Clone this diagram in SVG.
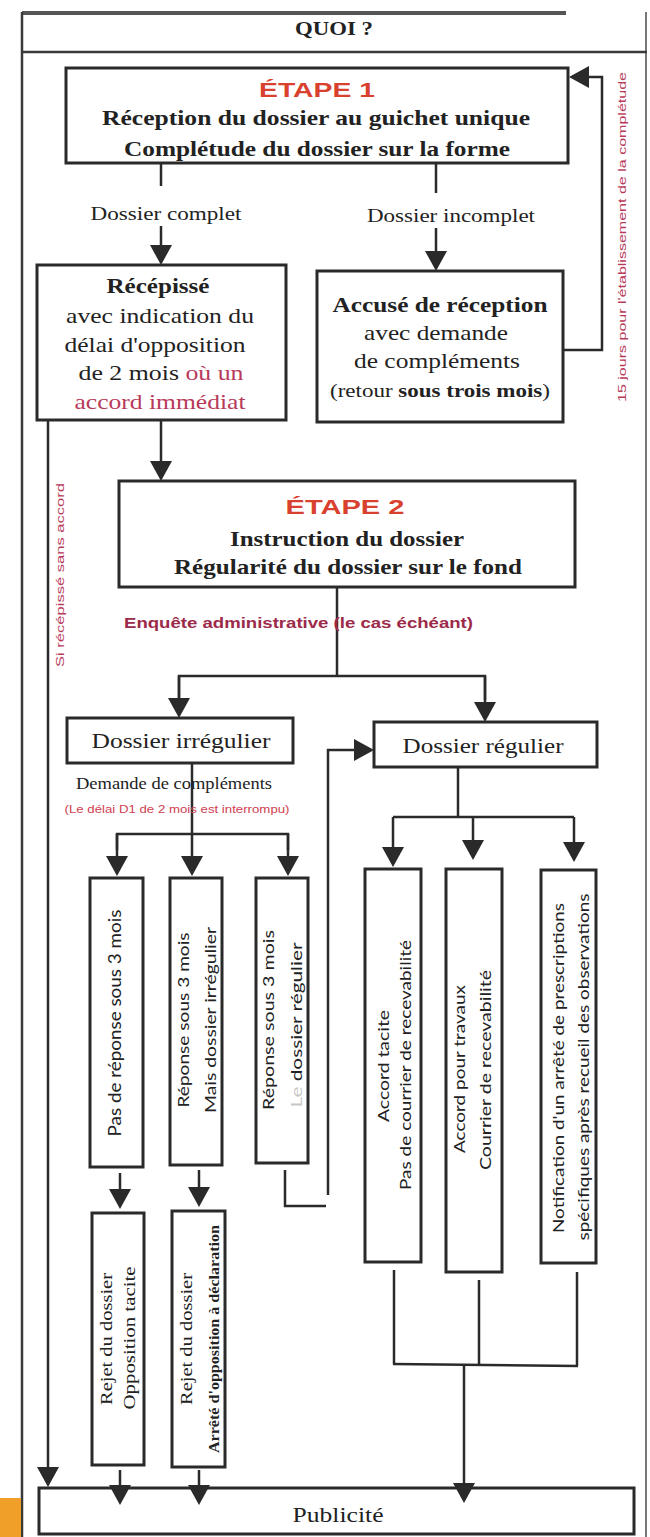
<svg xmlns="http://www.w3.org/2000/svg" width="650" height="1537" viewBox="0 0 650 1537">
<defs>
<marker id="ah" markerUnits="userSpaceOnUse" markerWidth="22" markerHeight="22" refX="17" refY="11" orient="auto">
<path d="M0,0 L20,11 L0,22 z" fill="#2a2a2a"/>
</marker>
<style>
.box{fill:#fff;stroke:#2a2a2a;stroke-width:3}
.ln{fill:none;stroke:#2a2a2a;stroke-width:2.5}
.ar{fill:none;stroke:#2a2a2a;stroke-width:2.5;marker-end:url(#ah)}
.fr{fill:none;stroke:#3a3a3a;stroke-width:2.5}
text{fill:#222}
.s{font-family:"Liberation Serif","Times New Roman",serif}
.sa{font-family:"Liberation Sans",Arial,sans-serif}
.hu{font-family:Lato,"Liberation Sans",sans-serif}
.b{font-weight:bold}
.c{text-anchor:middle}
.red{fill:#d9412f}
.pink{fill:#b83a5a}
.maroon{fill:#9c2a4a}
</style>
</defs>
<rect width="650" height="1537" fill="#fff"/>
<g id="frame">
<line x1="22" y1="13" x2="566" y2="13" stroke="#555" stroke-width="4"/>
<line class="fr" x1="22" y1="12" x2="22" y2="1537"/>
<line x1="646" y1="12" x2="646" y2="1537" stroke="#777" stroke-width="2"/>
<line class="fr" x1="22" y1="52" x2="647" y2="52"/>
<rect x="0" y="1498" width="21" height="39" fill="#f0a028"/>
<text class="s b c" x="334" y="35" font-size="18" textLength="78" lengthAdjust="spacingAndGlyphs">QUOI ?</text>
</g>
<g id="connectors">
<line class="ln" x1="161" y1="163" x2="161" y2="186"/>
<line class="ar" x1="161" y1="226" x2="161" y2="262"/>
<line class="ln" x1="436" y1="163" x2="436" y2="193"/>
<line class="ar" x1="436" y1="228" x2="436" y2="268"/>
<polyline class="ar" points="563,350 602,350 602,77 572,77"/>
<line class="ar" x1="161" y1="420" x2="161" y2="478"/>
<line class="ar" x1="48" y1="420" x2="48" y2="1484"/>
<line class="ln" x1="337" y1="587" x2="337" y2="676"/>
<polyline class="ln" points="179,700 179,676 485,676 485,700"/>
<line class="ar" x1="179" y1="676" x2="179" y2="715"/>
<line class="ar" x1="485" y1="676" x2="485" y2="719"/>
<line class="ar" x1="192" y1="763" x2="192" y2="873"/>
<polyline class="ln" points="117,850 117,834 288,834 288,850"/>
<line class="ar" x1="117" y1="834" x2="117" y2="873"/>
<line class="ar" x1="288" y1="834" x2="288" y2="873"/>
<polyline class="ln" points="285,1170 285,1206 326,1206"/>
<polyline class="ar" points="328,1195 328,750 371,750"/>
<line class="ln" x1="458" y1="767" x2="458" y2="817"/>
<line class="ln" x1="393" y1="817" x2="574" y2="817"/>
<line class="ar" x1="393" y1="817" x2="393" y2="864"/>
<line class="ar" x1="473" y1="817" x2="473" y2="857"/>
<line class="ar" x1="574" y1="817" x2="574" y2="859"/>
<line class="ar" x1="120" y1="1173" x2="120" y2="1206"/>
<line class="ar" x1="199" y1="1170" x2="199" y2="1204"/>
<line class="ar" x1="120" y1="1470" x2="120" y2="1502"/>
<line class="ar" x1="199" y1="1470" x2="199" y2="1502"/>
<line class="ln" x1="394" y1="1270" x2="394" y2="1364"/>
<line class="ln" x1="479" y1="1280" x2="479" y2="1364"/>
<line class="ln" x1="577" y1="1272" x2="577" y2="1366"/>
<line class="ln" x1="393" y1="1364" x2="578" y2="1366"/>
<line class="ar" x1="464" y1="1365" x2="464" y2="1500"/>
<text class="s c" x="166" y="220" font-size="19" textLength="151" lengthAdjust="spacingAndGlyphs">Dossier complet</text>
<text class="s c" x="451" y="222" font-size="19" textLength="168" lengthAdjust="spacingAndGlyphs">Dossier incomplet</text>
<text class="sa pink c" font-size="11" transform="translate(626,237) rotate(-90)" textLength="330" lengthAdjust="spacingAndGlyphs">15 jours pour l'établissement de la complétude</text>
<text class="sa pink c" font-size="11" transform="translate(64,575) rotate(-90)" textLength="184" lengthAdjust="spacingAndGlyphs">Si récépissé sans accord</text>
<text class="sa b maroon" x="124" y="628" font-size="14" textLength="349" lengthAdjust="spacingAndGlyphs">Enquête administrative (le cas échéant)</text>
<text class="s c" x="174" y="789" font-size="17" textLength="196" lengthAdjust="spacingAndGlyphs">Demande de compléments</text>
<text class="sa c" x="177" y="813" font-size="10" fill="#d04050" style="fill:#d04050" textLength="225" lengthAdjust="spacingAndGlyphs">(Le délai D1 de 2 mois est interrompu)</text>
</g>
<g id="etape1">
<rect class="box" x="66" y="68" width="502" height="95"/>
<text class="sa b red c" x="317" y="97" font-size="21" textLength="116" lengthAdjust="spacingAndGlyphs">ÉTAPE 1</text>
<text class="s b c" x="316" y="125" font-size="22" textLength="428" lengthAdjust="spacingAndGlyphs">Réception du dossier au guichet unique</text>
<text class="s b c" x="317" y="156" font-size="22" textLength="386" lengthAdjust="spacingAndGlyphs">Complétude du dossier sur la forme</text>
</g>
<g id="recepisse">
<rect class="box" x="37" y="265" width="249" height="155"/>
<text class="s b c" x="158" y="293" font-size="21" textLength="103" lengthAdjust="spacingAndGlyphs">Récépissé</text>
<text class="s c" x="160" y="323" font-size="21" textLength="188" lengthAdjust="spacingAndGlyphs">avec indication du</text>
<text class="s c" x="155" y="352" font-size="21" textLength="181" lengthAdjust="spacingAndGlyphs">délai d'opposition</text>
<text class="s c" x="161" y="380" font-size="21" textLength="165" lengthAdjust="spacingAndGlyphs">de 2 mois <tspan class="pink">où un</tspan></text>
<text class="s pink c" x="160" y="409" font-size="21" textLength="171" lengthAdjust="spacingAndGlyphs">accord immédiat</text>
</g>
<g id="accuse">
<rect class="box" x="317" y="271" width="246" height="151"/>
<text class="s b c" x="440" y="312" font-size="21" textLength="215" lengthAdjust="spacingAndGlyphs">Accusé de réception</text>
<text class="s c" x="436" y="340" font-size="21" textLength="144" lengthAdjust="spacingAndGlyphs">avec demande</text>
<text class="s c" x="437" y="368" font-size="21" textLength="166" lengthAdjust="spacingAndGlyphs">de compléments</text>
<text class="s c" x="440" y="397" font-size="19" textLength="220" lengthAdjust="spacingAndGlyphs">(retour <tspan class="b">sous trois mois</tspan>)</text>
</g>
<g id="etape2">
<rect class="box" x="119" y="481" width="456" height="106"/>
<text class="sa b red c" x="345" y="514" font-size="21" textLength="119" lengthAdjust="spacingAndGlyphs">ÉTAPE 2</text>
<text class="s b c" x="347" y="546" font-size="22" textLength="234" lengthAdjust="spacingAndGlyphs">Instruction du dossier</text>
<text class="s b c" x="348" y="574" font-size="22" textLength="348" lengthAdjust="spacingAndGlyphs">Régularité du dossier sur le fond</text>
</g>
<g id="irregulier">
<rect class="box" x="67" y="718" width="226" height="45"/>
<text class="s c" x="181" y="748" font-size="22" textLength="179" lengthAdjust="spacingAndGlyphs">Dossier irrégulier</text>
</g>
<g id="regulier">
<rect class="box" x="374" y="722" width="223" height="45"/>
<text class="s c" x="483" y="753" font-size="22" textLength="161" lengthAdjust="spacingAndGlyphs">Dossier régulier</text>
</g>
<g id="boxA">
<rect class="box" x="90" y="878" width="53" height="289"/>
<text class="hu c" font-size="17" transform="translate(121,1023) rotate(-90)" textLength="227" lengthAdjust="spacingAndGlyphs">Pas de réponse sous 3 mois</text>
</g>
<g id="boxB">
<rect class="box" x="170" y="878" width="52" height="287"/>
<text class="hu c" font-size="16" transform="translate(189,1020) rotate(-90)" textLength="175" lengthAdjust="spacingAndGlyphs">Réponse sous 3 mois</text>
<text class="hu c" font-size="16" transform="translate(216,1020) rotate(-90)" textLength="186" lengthAdjust="spacingAndGlyphs">Mais dossier irrégulier</text>
</g>
<g id="boxC">
<rect class="box" x="256" y="878" width="52" height="285"/>
<text class="hu c" font-size="16" transform="translate(274,1020) rotate(-90)" textLength="180" lengthAdjust="spacingAndGlyphs">Réponse sous 3 mois</text>
<text class="hu c" font-size="16" transform="translate(302,1025) rotate(-90)" textLength="165" lengthAdjust="spacingAndGlyphs"><tspan style="fill:#c8c8c8">Le</tspan> dossier régulier</text>
</g>
<g id="boxD">
<rect class="box" x="365" y="869" width="56" height="393"/>
<text class="hu c" font-size="16" transform="translate(389,1066) rotate(-90)" textLength="112" lengthAdjust="spacingAndGlyphs">Accord tacite</text>
<text class="hu c" font-size="16" transform="translate(411,1065) rotate(-90)" textLength="250" lengthAdjust="spacingAndGlyphs">Pas de courrier de recevabilité</text>
</g>
<g id="boxE">
<rect class="box" x="446" y="869" width="56" height="403"/>
<text class="hu c" font-size="16" transform="translate(465,1069) rotate(-90)" textLength="168" lengthAdjust="spacingAndGlyphs">Accord pour travaux</text>
<text class="hu c" font-size="16" transform="translate(491,1070) rotate(-90)" textLength="200" lengthAdjust="spacingAndGlyphs">Courrier de recevabilité</text>
</g>
<g id="boxF">
<rect class="box" x="541" y="870" width="55" height="393"/>
<text class="hu c" font-size="16" transform="translate(564,1068) rotate(-90)" textLength="330" lengthAdjust="spacingAndGlyphs">Notification d'un arrêté de prescriptions</text>
<text class="hu c" font-size="16" transform="translate(589,1067) rotate(-90)" textLength="347" lengthAdjust="spacingAndGlyphs">spécifiques après recueil des observations</text>
</g>
<g id="rejetA">
<rect class="box" x="92" y="1213" width="52" height="252"/>
<text class="s c" font-size="17" transform="translate(112,1339) rotate(-90)" textLength="132" lengthAdjust="spacingAndGlyphs">Rejet du dossier</text>
<text class="s c" font-size="17" transform="translate(135,1338) rotate(-90)" textLength="143" lengthAdjust="spacingAndGlyphs">Opposition tacite</text>
</g>
<g id="rejetB">
<rect class="box" x="172" y="1211" width="53" height="256"/>
<text class="s c" font-size="17" transform="translate(192,1339) rotate(-90)" textLength="132" lengthAdjust="spacingAndGlyphs">Rejet du dossier</text>
<text class="s b c" font-size="15" transform="translate(219,1339) rotate(-90)" textLength="228" lengthAdjust="spacingAndGlyphs">Arrêté d'opposition à déclaration</text>
</g>
<g id="publicite">
<rect class="box" x="39" y="1488" width="595" height="46" fill-opacity="0"/>
<text class="s c" x="338" y="1522" font-size="20" textLength="91" lengthAdjust="spacingAndGlyphs">Publicité</text>
</g>
</svg>
